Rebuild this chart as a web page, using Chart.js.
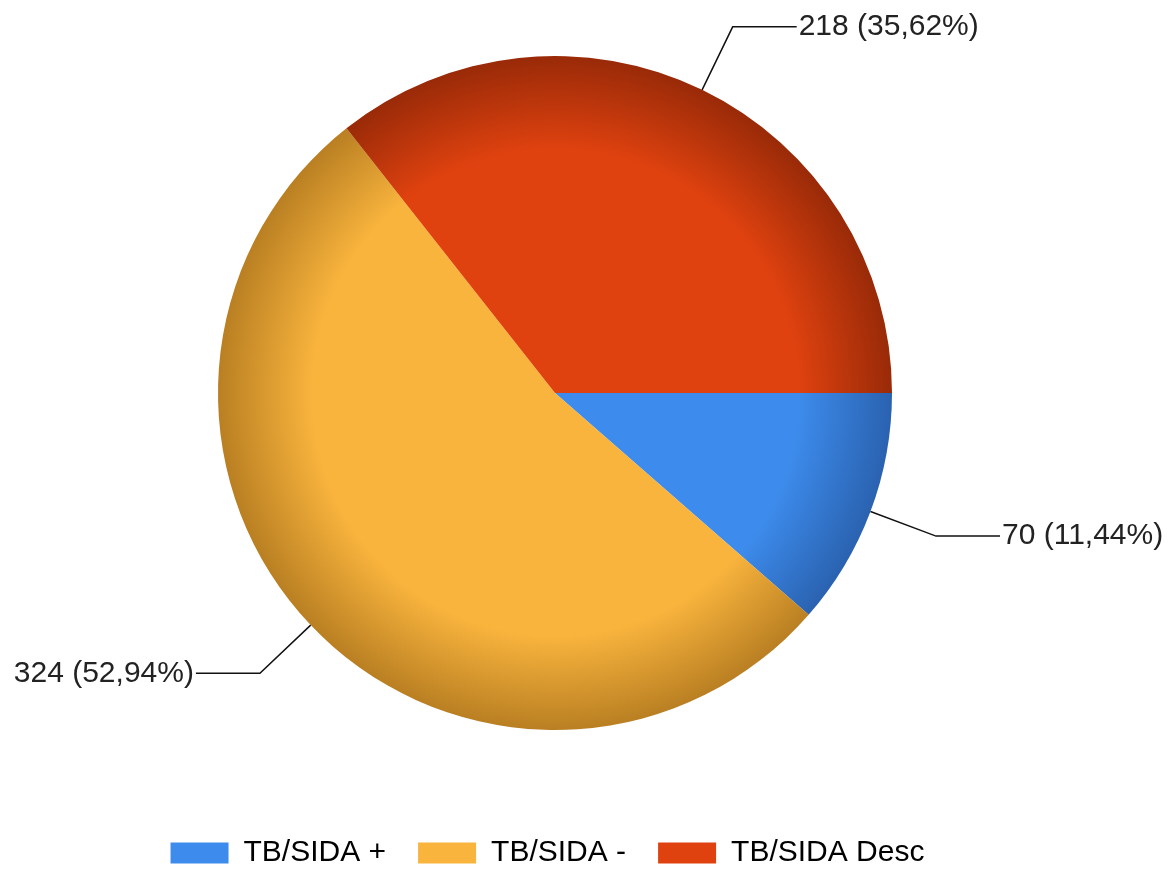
<!DOCTYPE html>
<html>
<head>
<meta charset="utf-8">
<script src="https://cdn.jsdelivr.net/npm/chart.js@4"></script>
<style>
  html, body { margin: 0; padding: 0; background: #fff; overflow: hidden; }
</style>
</head>
<body>
<canvas id="pieChart" width="1169" height="869"></canvas>
<script>
// ===== data =====
const categories = ["TB/SIDA +", "TB/SIDA -", "TB/SIDA Desc"];
const values = [70, 324, 218];
const colors = ["#3d8ced", "#f9b43d", "#e0420f"];
const edgeColors = ["#2a62b0", "#b97f22", "#992a08"];

const total = values.reduce((a, b) => a + b, 0);
const fmtLabel = (v) => v + " (" + (v / total * 100).toFixed(2).replace(".", ",") + "%)";

// pie placement in the picture
const PIE = { cx: 555, cy: 393, r: 337 };

// shading toward the rim
function shade(ctx) {
  const i = ctx.dataIndex;
  const c = ctx.chart.ctx;
  const g = c.createRadialGradient(PIE.cx, PIE.cy, 0, PIE.cx, PIE.cy, PIE.r);
  g.addColorStop(0, colors[i]);
  g.addColorStop(0.72, colors[i]);
  g.addColorStop(1, edgeColors[i]);
  return g;
}

// force the pie area (legend keeps its own box)
const placePie = {
  id: "placePie",
  afterLayout(chart) {
    const a = chart.chartArea;
    a.left = PIE.cx - PIE.r; a.right = PIE.cx + PIE.r;
    a.top = PIE.cy - PIE.r; a.bottom = PIE.cy + PIE.r;
    a.width = PIE.r * 2; a.height = PIE.r * 2;
  }
};

// value labels with elbow leader lines
const leaderLabels = {
  id: "leaderLabels",
  afterDatasetsDraw(chart) {
    const ctx = chart.ctx;
    const meta = chart.getDatasetMeta(0);
    ctx.save();
    ctx.font = "30px 'Liberation Sans', Arial, sans-serif";
    ctx.textBaseline = "middle";
    ctx.fillStyle = "#222";
    ctx.strokeStyle = "#111";
    ctx.lineWidth = 1.5;
    meta.data.forEach((arc, i) => {
      const p = arc.getProps(["x", "y", "startAngle", "endAngle", "outerRadius"], true);
      const mid = (p.startAngle + p.endAngle) / 2;
      const x1 = p.x + Math.cos(mid) * p.outerRadius;
      const y1 = p.y + Math.sin(mid) * p.outerRadius;
      const x2 = p.x + Math.cos(mid) * (p.outerRadius + 70);
      const y2 = p.y + Math.sin(mid) * (p.outerRadius + 70);
      const dir = Math.cos(mid) >= 0 ? 1 : -1;
      const x3 = x2 + dir * 64;
      ctx.beginPath();
      ctx.moveTo(x1, y1);
      ctx.lineTo(x2, y2);
      ctx.lineTo(x3, y2);
      ctx.stroke();
      ctx.textAlign = dir > 0 ? "left" : "right";
      ctx.fillText(fmtLabel(values[i]), x3 + dir * 2, y2);
    });
    ctx.restore();
  }
};

new Chart(document.getElementById("pieChart").getContext("2d"), {
  type: "pie",
  data: {
    labels: categories,
    datasets: [{
      data: values,
      backgroundColor: shade,
      borderWidth: 0
    }]
  },
  options: {
    responsive: false,
    animation: false,
    rotation: 90,
    layout: { padding: { top: 0, left: 0, right: 74, bottom: -9 } },
    plugins: {
      tooltip: { enabled: false },
      legend: {
        position: "bottom",
        labels: {
          boxWidth: 58,
          boxHeight: 21,
          padding: 32,
          color: "#222",
          font: { family: "'Liberation Sans', Arial, sans-serif", size: 30 },
          generateLabels(chart) {
            return categories.map((c, i) => ({
              text: c,
              fillStyle: colors[i],
              strokeStyle: colors[i],
              lineWidth: 0,
              hidden: false,
              index: i
            }));
          }
        }
      }
    }
  },
  plugins: [placePie, leaderLabels]
});
</script>
</body>
</html>
